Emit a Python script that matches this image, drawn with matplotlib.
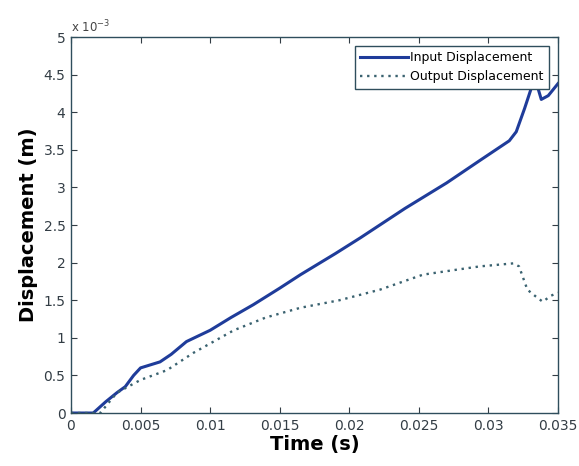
import matplotlib
matplotlib.use("Agg")
import matplotlib.pyplot as plt
from matplotlib.ticker import FuncFormatter

# displacement values in units of 1e-3 m
t_in = [0, 0.0016, 0.0025, 0.0033, 0.0039, 0.0045, 0.0050, 0.0057, 0.0064,
        0.0072, 0.0083, 0.0100, 0.0115, 0.0131, 0.0150, 0.0165, 0.0190,
        0.0208, 0.0240, 0.0270, 0.0294, 0.0315, 0.0320, 0.0326, 0.0331,
        0.0334, 0.0338, 0.0343, 0.0350]
d_in = [0, 0, 0.15, 0.27, 0.35, 0.5, 0.6, 0.64, 0.68, 0.78, 0.95, 1.10,
        1.27, 1.44, 1.66, 1.84, 2.12, 2.33, 2.72, 3.06, 3.36, 3.62, 3.74,
        4.05, 4.33, 4.42, 4.17, 4.22, 4.38]

t_out = [0, 0.0021, 0.0033, 0.0050, 0.0069, 0.0088, 0.0117, 0.0140, 0.0165,
         0.0193, 0.0222, 0.0253, 0.0275, 0.0294, 0.0318, 0.0322, 0.0328,
         0.0334, 0.0339, 0.0345, 0.0350]
d_out = [0, 0, 0.27, 0.44, 0.57, 0.8, 1.1, 1.27, 1.4, 1.5, 1.64, 1.84,
         1.90, 1.95, 1.99, 1.95, 1.64, 1.55, 1.48, 1.56, 1.60]

x_ticks = [0, 0.005, 0.01, 0.015, 0.02, 0.025, 0.03, 0.035]
y_ticks = [0, 0.5, 1, 1.5, 2, 2.5, 3, 3.5, 4, 4.5, 5]

fig = plt.figure(figsize=(5.79, 4.66), dpi=100)
ax = fig.add_axes([0.1226, 0.1137, 0.8411, 0.8069])

ax.plot(t_in, d_in, color="#1f3c9a", lw=2.2, label="Input Displacement")
ax.plot(t_out, d_out, color="#3a6270", lw=1.7, ls=(0, (1, 2)),
        label="Output Displacement")

ax.set_xlim(0, 0.035)
ax.set_ylim(0, 5)
ax.set_xticks(x_ticks)
ax.set_yticks(y_ticks)
ax.xaxis.set_major_formatter(FuncFormatter(lambda v, p: "%g" % round(v, 4)))
ax.yaxis.set_major_formatter(FuncFormatter(lambda v, p: "%g" % v))
ax.tick_params(direction="in", top=True, right=True, length=4,
               labelsize=10, colors="#333d45", pad=4)
for s in ax.spines.values():
    s.set_color("#2f4e5c")
    s.set_linewidth(1.0)

ax.text(0.0, 1.005, r"x 10$^{-3}$", transform=ax.transAxes,
        fontsize=8.5, color="#444444", ha="left", va="bottom")

ax.set_xlabel("Time (s)", fontsize=14, fontweight="bold", labelpad=2)
ax.set_ylabel("Displacement (m)", fontsize=14, fontweight="bold", labelpad=4)

leg = ax.legend(loc="upper right", fontsize=9, fancybox=False,
                framealpha=1, edgecolor="#2f4e5c", borderaxespad=0.7,
                handlelength=3.8, handletextpad=0.2, borderpad=0.45,
                labelspacing=0.45)
leg.get_frame().set_linewidth(1.0)

fig.savefig("out.png", dpi=100)
